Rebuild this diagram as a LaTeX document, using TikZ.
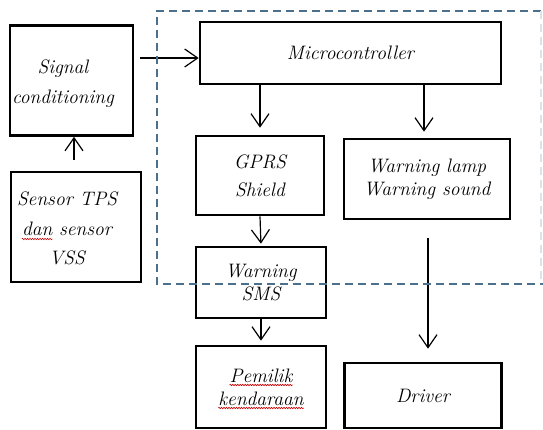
\documentclass[tikz,border=0pt]{standalone}
\usetikzlibrary{arrows.meta,decorations.pathmorphing}
\definecolor{dashblue}{RGB}{74,112,139}
\begin{document}
\begin{tikzpicture}[x=1pt,y=-1pt,
  box/.style={draw, line width=2.6pt, rectangle, inner sep=0pt, align=center,
    font=\fontsize{19.5}{30}\selectfont\itshape},
  txt/.style={inner sep=0pt, align=center, font=\fontsize{19.5}{30}\selectfont\itshape},
  arr/.style={line width=1.2pt, -{Straight Barb[length=13pt,width=18pt,line width=1.2pt]}},
  grp/.style={dashblue, line width=2.2pt, dash pattern=on 8pt off 5pt},
  wave/.style={red!80!black, line width=0.6pt, decorate,
    decoration={snake, amplitude=0.7pt, segment length=2.5pt}}]
\useasboundingbox (0,0) rectangle (543,430);
\fill[white] (0,0) rectangle (543,430);

% boxes
\node[box, minimum width=123pt, minimum height=110pt] (sig) at (71.5,80.5) {};
\node[txt] (sigt) at (63,84) {Signal\\conditioning};
\node[box, minimum width=130pt, minimum height=110pt] (sens) at (76,227) {};
\node[txt, anchor=base] (sens1) at (67,206) {Sensor TPS};
\node[txt, anchor=base] (sens2) at (67,236) {\phantom{dan} sensor};
\node[txt, anchor=base west] (dan) at (sens2.base west) {dan};
\node[txt, anchor=base] (sens3) at (67,265) {VSS};
\node[box, minimum width=301pt, minimum height=62pt] (mc) at (350.5,53) {Microcontroller};
\node[box, minimum width=128pt, minimum height=79pt, font=\fontsize{19.5}{28}\selectfont\itshape] (gprs) at (260,175.5) {GPRS\\Shield};
\node[box, minimum width=166pt, minimum height=80pt, font=\fontsize{19.5}{23}\selectfont\itshape] (lamp) at (427,179) {Warning lamp\\Warning sound};
\node[box, minimum width=130pt, minimum height=71pt, font=\fontsize{19.5}{23}\selectfont\itshape] (sms) at (261,282.5) {Warning\\SMS};
\node[box, minimum width=130pt, minimum height=82pt] (pem) at (261,387) {};
\node[txt, anchor=base] (pem1) at (261,382) {Pemilik};
\node[txt, anchor=base] (pem2) at (261,405) {kendaraan};
\node[box, minimum width=157pt, minimum height=65pt] (drv) at (423,395.5) {Driver};

% spell-check underlines
\draw[wave] ([yshift=-3pt]dan.base west) -- ([yshift=-3pt]dan.base east);
\draw[wave] ([yshift=-3pt]pem1.base west) -- ([yshift=-3pt]pem1.base east);
\draw[wave] ([yshift=-3pt]pem2.base west) -- ([yshift=-3pt]pem2.base east);

% connectors
\coordinate (a0) at (140,58);
\draw[arr] (a0) -- (a0 -| mc.west);
\coordinate (s0) at (74,160);
\draw[arr] (s0) -- (s0 |- sig.south);
\draw[arr, shorten >=7pt] (gprs.north |- mc.south) -- (gprs.north);
\coordinate (l0) at (424,0);
\draw[arr, shorten >=6pt] (l0 |- mc.south) -- (l0 |- lamp.north);
\draw[arr, shorten >=2pt] (gprs.south) -- (sms.north);
\draw[arr, shorten >=4pt] (sms.south) -- (pem.north);
\coordinate (d0) at (428,238);
\draw[arr, shorten >=13pt] (d0) -- (d0 |- drv.north);

% dashed group
\draw[grp] (541,11) -- (157,11) -- (157,284) -- (543,284);
\draw[grp, draw=dashblue!20, line width=1.2pt] (541,11) -- (541,284);
\end{tikzpicture}
\end{document}
